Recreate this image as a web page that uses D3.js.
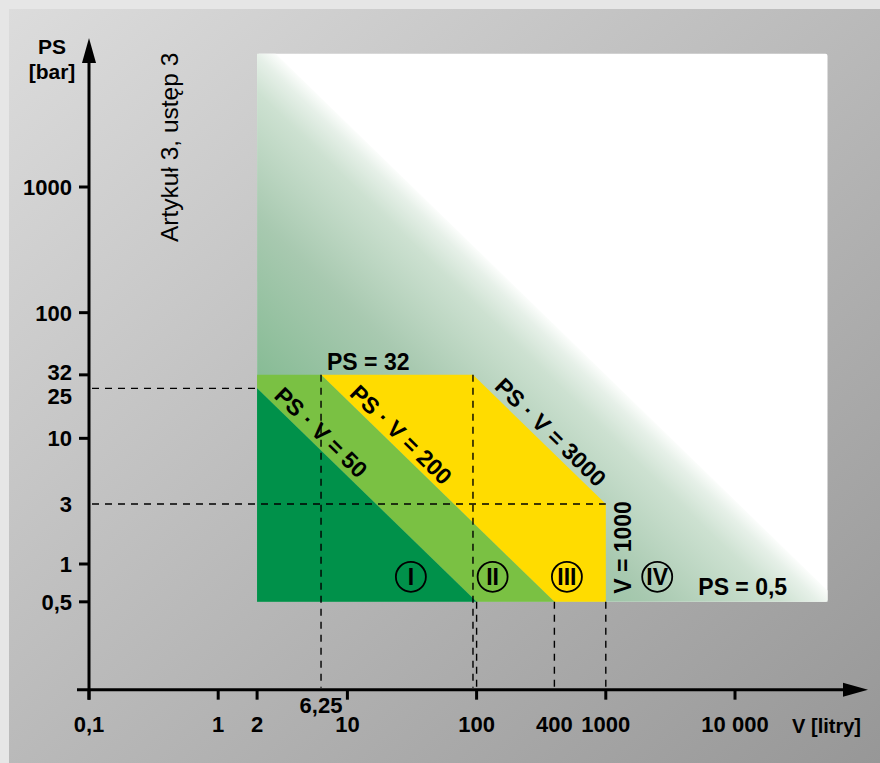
<!DOCTYPE html>
<html>
<head>
<meta charset="utf-8">
<script src="https://cdn.jsdelivr.net/npm/d3@7/dist/d3.min.js"></script>
<style>
  html, body { margin: 0; padding: 0; background: #e6e6e6; }
  svg { display: block; }
  text { font-family: "Liberation Sans", Arial, Helvetica, sans-serif; fill: #000; }
</style>
</head>
<body>
<svg id="chart" width="880" height="763"></svg>
<script>
// ---------------- DATA ----------------
// X axis (V, litres) ticks & labels
const xTickValues = [0.1, 1, 2, 10, 100, 1000, 10000];
const xLabelValues = [0.1, 1, 2, 10, 100, 400, 1000, 10000];
const xLabelTexts  = ["0,1", "1", "2", "10", "100", "400", "1000", "10 000"];
const xExtraLabel  = { value: 6.25, text: "6,25" };

// Y axis (PS, bar) ticks & labels
const yTickValues = [0.5, 1, 10, 32, 100, 1000];
const yLabelValues = [0.5, 1, 3, 10, 25, 32, 100, 1000];
const yLabelTexts  = ["0,5", "1", "3", "10", "25", "32", "100", "1000"];

// Category regions, polygons in (V, PS)
const catI   = [[2, 25], [100, 0.5], [2, 0.5]];
const catII  = [[2, 32], [6.25, 32], [400, 0.5], [100, 0.5], [2, 25]];
const catIII = [[6.25, 32], [93.75, 32], [1000, 3], [1000, 0.5], [400, 0.5]];

// Background panel (category IV area) limits and fade line PS·V
const panelV  = [2, 52000];
const panelPS = [0.5, 11500];
const fadeLimitPV = 32000;

// Dashed guide lines
const hDashes = [ { ps: 25, v0: 0.1, v1: 2 }, { ps: 3, v0: 0.1, v1: 1000 } ];
const vDashes = [
  { v: 6.25,  ps0: 0.1, ps1: 32 },
  { v: 93.75, ps0: 0.1, ps1: 32 },
  { v: 100,   ps0: 0.1, ps1: 0.5 },
  { v: 400,   ps0: 0.1, ps1: 0.5 },
  { v: 1000,  ps0: 0.1, ps1: 0.5 }
];

// Category markers (roman numerals)
const catLabels = ["I", "II", "III", "IV"];
const catLabelV = [31, 133, 500, 2500];
const catLabelPS = 0.79;

// Diagonal PS·V labels
const pvLabels = [
  { pv: 50,   text: "PS · V = 50",   v0: 2.5 },
  { pv: 200,  text: "PS · V = 200",  v0: 9.6 },
  { pv: 3000, text: "PS · V = 3000", v0: 127 }
];

// ---------------- DRAW ----------------
const svg = d3.select("#chart");
const W = 880, H = 763;
const FS = 22;   // tick labels
const FA = 23;   // annotations

const x = d3.scaleLog().domain([0.1, 10000]).range([89, 735]);
const y = d3.scaleLog().domain([1, 1000]).range([564, 187]);

const defs = svg.append("defs");
const bg = defs.append("linearGradient").attr("id", "bgGrad")
  .attr("x1", 0).attr("y1", 0).attr("x2", 1).attr("y2", 1);
bg.append("stop").attr("offset", 0).attr("stop-color", "#dcdcdc");
bg.append("stop").attr("offset", 1).attr("stop-color", "#979797");

// outer frame + gradient panel
svg.append("rect").attr("width", W).attr("height", H).attr("fill", "#e6e6e6");
svg.append("rect").attr("x", 9).attr("y", 9).attr("width", W - 9).attr("height", H - 9)
  .attr("fill", "url(#bgGrad)");

// white panel
svg.append("rect")
  .attr("x", x(panelV[0])).attr("y", y(panelPS[1]))
  .attr("width", x(panelV[1]) - x(panelV[0]))
  .attr("height", y(panelPS[0]) - y(panelPS[1]))
  .attr("rx", 2)
  .attr("fill", "#ffffff");

// fade gradient (category IV) perpendicular to fade line
const corner = [x(panelV[0]), y(panelPS[0])];
const la = [x(fadeLimitPV / panelPS[1]), y(panelPS[1])];
const lb = [x(panelV[1]), y(fadeLimitPV / panelV[1])];
const dx = lb[0] - la[0], dy = lb[1] - la[1];
const len2 = dx * dx + dy * dy;
const t = ((corner[0] - la[0]) * dx + (corner[1] - la[1]) * dy) / len2;
const foot = [la[0] + t * dx, la[1] + t * dy];
const fg = defs.append("linearGradient").attr("id", "fadeGrad")
  .attr("gradientUnits", "userSpaceOnUse")
  .attr("x1", corner[0]).attr("y1", corner[1])
  .attr("x2", foot[0]).attr("y2", foot[1]);
[[0, "#62a87a"], [0.39, "#86bb94"], [0.68, "#a8c9b0"], [0.9, "#cde1d1"],
 [0.965, "#e6f0e8"], [1, "#fbfdfb"]].forEach(s =>
  fg.append("stop").attr("offset", s[0]).attr("stop-color", s[1]));

const catIV = [
  [panelV[0], panelPS[1]],
  [fadeLimitPV / panelPS[1], panelPS[1]],
  [panelV[1], fadeLimitPV / panelV[1]],
  [panelV[1], panelPS[0]],
  [panelV[0], panelPS[0]]
];
const line = d3.line().x(d => x(d[0])).y(d => y(d[1]));
svg.append("path").attr("d", line(catIV) + "Z").attr("fill", "url(#fadeGrad)");

// category regions
svg.append("path").attr("d", line(catIII) + "Z").attr("fill", "#ffdc00");
svg.append("path").attr("d", line(catII) + "Z").attr("fill", "#7ac143");
svg.append("path").attr("d", line(catI) + "Z").attr("fill", "#00914a");

// dashed guides
const dashG = svg.append("g").attr("stroke", "#000").attr("stroke-width", 1.4)
  .attr("stroke-dasharray", "7,6").attr("fill", "none");
hDashes.forEach(d => {
  dashG.append("line").attr("x1", x(d.v0) + 3).attr("x2", x(d.v1))
    .attr("y1", y(d.ps)).attr("y2", y(d.ps));
});
vDashes.forEach(d => {
  dashG.append("line").attr("x1", x(d.v)).attr("x2", x(d.v))
    .attr("y1", y(d.ps1)).attr("y2", y(d.ps0) - 2);
});

// axes
const axisY0 = y(0.1); // x-axis sits at PS = 0.1
const axisX0 = x(0.1); // y-axis sits at V = 0.1
const axG = svg.append("g").attr("stroke", "#000").attr("stroke-width", 3);
axG.append("line").attr("x1", axisX0).attr("x2", axisX0).attr("y1", 60).attr("y2", axisY0 + 10);
axG.append("line").attr("x1", axisX0 - 12).attr("x2", 846).attr("y1", axisY0).attr("y2", axisY0);
svg.append("path").attr("d", `M${axisX0},38 L${axisX0 - 7},63 L${axisX0 + 7},63 Z`).attr("fill", "#000");
svg.append("path").attr("d", `M868,${axisY0} L843,${axisY0 - 7} L843,${axisY0 + 7} Z`).attr("fill", "#000");

// y ticks
yTickValues.forEach(v => {
  axG.append("line").attr("x1", axisX0 - 10).attr("x2", axisX0).attr("y1", y(v)).attr("y2", y(v));
});
// x ticks
xTickValues.forEach(v => {
  axG.append("line").attr("x1", x(v)).attr("x2", x(v)).attr("y1", axisY0).attr("y2", axisY0 + 10);
});

const bold = sel => sel.attr("font-weight", "bold");

// y labels
yLabelValues.forEach((v, i) => {
  let off = 0;
  if (v === 25) off = 8;
  if (v === 32) off = -3;
  svg.append("text").call(bold).attr("font-size", FS)
    .attr("text-anchor", "end").attr("x", 72).attr("y", y(v) + off).attr("dy", "0.36em")
    .text(yLabelTexts[i]);
});
// x labels
xLabelValues.forEach((v, i) => {
  svg.append("text").call(bold).attr("font-size", FS)
    .attr("text-anchor", "middle").attr("x", x(v)).attr("y", 732)
    .text(xLabelTexts[i]);
});
svg.append("text").call(bold).attr("font-size", FS)
  .attr("text-anchor", "middle").attr("x", x(xExtraLabel.value)).attr("y", 713)
  .text(xExtraLabel.text);

// axis titles
svg.append("text").call(bold).attr("font-size", 21).attr("text-anchor", "middle")
  .attr("x", 52).attr("y", 54).text("PS");
svg.append("text").call(bold).attr("font-size", 21).attr("text-anchor", "middle")
  .attr("x", 52).attr("y", 79).text("[bar]");
svg.append("text").call(bold).attr("font-size", 20).attr("text-anchor", "end")
  .attr("x", 861).attr("y", 733).text("V [litry]");

// Artykuł label
svg.append("text").attr("font-size", 24.5)
  .attr("transform", "translate(178,242) rotate(-90)")
  .text("Artykuł 3, ustęp 3");

// diagonal labels
const ang = Math.atan((y(1) - y(10)) / (x(10) - x(1)));
const angDeg = ang * 180 / Math.PI;
const ux = Math.sin(ang), uy = -Math.cos(ang);
pvLabels.forEach(d => {
  const px = x(d.v0) + 5 * ux, py = y(d.pv / d.v0) + 5 * uy;
  svg.append("text").call(bold).attr("font-size", FA)
    .attr("transform", `translate(${px},${py}) rotate(${angDeg})`)
    .text(d.text);
});

// PS = 32 / PS = 0,5 / V = 1000 labels
svg.append("text").call(bold).attr("font-size", FA)
  .attr("x", x(6.25) + 6).attr("y", y(32) - 5).text("PS = 32");
svg.append("text").call(bold).attr("font-size", FA)
  .attr("x", x(5200)).attr("y", y(0.5) - 7).text("PS = 0,5");
svg.append("text").call(bold).attr("font-size", FA)
  .attr("transform", `translate(${x(1000) + 25},${y(0.5) - 8}) rotate(-90)`)
  .text("V = 1000");

// category circles
catLabels.forEach((c, i) => {
  const cx = x(catLabelV[i]), cy = y(catLabelPS);
  svg.append("circle").attr("cx", cx).attr("cy", cy).attr("r", 15)
    .attr("fill", "none").attr("stroke", "#000").attr("stroke-width", 1.8);
  svg.append("text").call(bold).attr("font-size", 23).attr("text-anchor", "middle")
    .attr("x", cx).attr("y", cy).attr("dy", "0.36em").text(c);
});
</script>
</body>
</html>
